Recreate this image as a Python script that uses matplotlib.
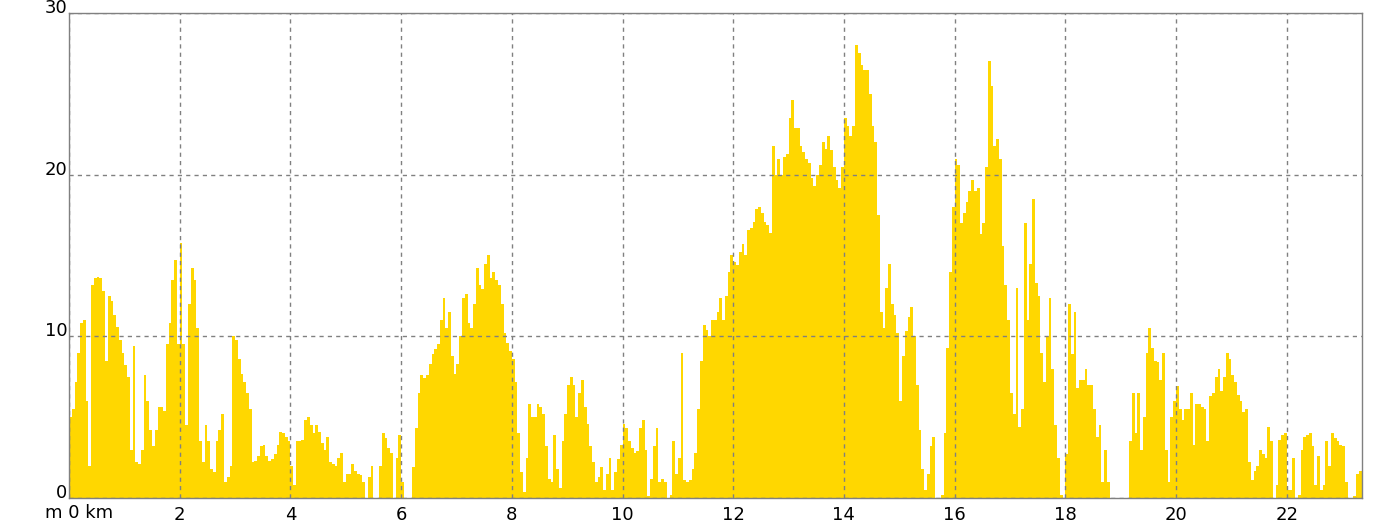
import numpy as np
import matplotlib
matplotlib.use("Agg")
import matplotlib.pyplot as plt
import matplotlib.transforms as mtransforms

# elevation (m) sampled every 50 m, one list per km
step_km = 0.05
km00 = [5.0, 5.5, 7.2, 9.0, 10.8, 11.0, 6.0, 2.0, 13.2, 13.6, 13.7, 13.6, 12.8, 8.5, 12.5, 12.2, 11.3, 10.6, 9.8, 9.0]
km01 = [8.2, 7.5, 3.0, 9.4, 2.2, 2.1, 3.0, 7.6, 6.0, 4.2, 3.2, 4.2, 5.6, 5.6, 5.4, 9.5, 10.8, 13.5, 14.7, 9.5]
km02 = [15.8, 9.5, 4.5, 12.0, 14.2, 13.5, 10.5, 3.5, 2.2, 4.5, 3.5, 1.8, 1.6, 3.5, 4.2, 5.2, 1.0, 1.3, 2.0, 10.0]
km03 = [9.8, 8.6, 7.7, 7.2, 6.5, 5.5, 2.2, 2.3, 2.6, 3.2, 3.3, 2.6, 2.3, 2.4, 2.7, 3.3, 4.1, 4.0, 3.8, 3.5]
km04 = [2.0, 0.8, 3.5, 3.5, 3.6, 4.8, 5.0, 4.5, 4.0, 4.5, 4.1, 3.4, 3.0, 3.8, 2.2, 2.1, 2.0, 2.5, 2.8, 1.0]
km05 = [1.5, 1.5, 2.1, 1.7, 1.5, 1.4, 1.0, 0, 1.3, 2.0, 0, 0, 2.0, 4.0, 3.7, 3.1, 2.8, 0, 2.5, 3.9]
km06 = [1.0, 0, 0, 0, 1.9, 4.3, 6.5, 7.6, 7.4, 7.6, 8.3, 8.9, 9.2, 9.5, 11.0, 12.4, 10.5, 11.5, 8.8, 7.7]
km07 = [8.3, 10.0, 12.4, 12.6, 10.8, 10.5, 12.0, 14.2, 13.2, 12.9, 14.5, 15.0, 13.6, 14.0, 13.5, 13.2, 12.0, 10.2, 9.6, 9.1]
km08 = [8.6, 7.2, 4.0, 1.6, 0.4, 2.5, 5.8, 5.0, 5.0, 5.8, 5.6, 5.2, 3.2, 1.2, 1.0, 3.9, 1.8, 0.6, 3.5, 5.2]
km09 = [7.0, 7.5, 7.0, 5.0, 6.5, 7.3, 5.6, 4.6, 3.2, 2.2, 1.0, 1.3, 1.9, 0.5, 1.5, 2.5, 0.5, 1.6, 2.4, 3.3]
km10 = [4.6, 4.3, 3.5, 3.1, 2.8, 2.9, 4.3, 4.8, 3.0, 0.1, 1.2, 3.2, 4.3, 1.0, 1.2, 1.0, 0, 0.2, 3.5, 1.5]
km11 = [2.5, 9.0, 1.1, 1.0, 1.1, 1.8, 2.8, 5.5, 8.5, 10.7, 10.4, 10.0, 11.0, 11.0, 11.5, 12.4, 11.0, 12.5, 14.0, 15.0]
km12 = [14.6, 14.4, 15.2, 15.7, 15.0, 16.6, 16.7, 17.1, 17.9, 18.0, 17.6, 17.1, 16.9, 16.4, 21.8, 20.0, 21.0, 20.0, 21.1, 21.3]
km13 = [23.5, 24.6, 22.9, 22.9, 21.8, 21.4, 21.0, 20.7, 19.8, 19.3, 20.0, 20.6, 22.0, 21.6, 22.4, 21.5, 20.5, 19.7, 19.2, 20.5]
km14 = [23.5, 23.0, 22.4, 23.0, 28.0, 27.5, 26.8, 26.5, 26.5, 25.0, 23.0, 22.0, 17.5, 11.5, 10.5, 13.0, 14.5, 12.0, 11.3, 10.2]
km15 = [6.0, 8.8, 10.3, 11.2, 11.8, 10.0, 7.0, 4.2, 1.8, 0.5, 1.5, 3.2, 3.8, 0, 0, 0.2, 4.0, 9.3, 14.0, 18.0]
km16 = [21.0, 20.6, 17.0, 17.6, 18.3, 19.0, 19.7, 19.0, 19.2, 16.3, 17.0, 20.5, 27.0, 25.5, 21.8, 22.2, 21.0, 15.6, 13.2, 11.0]
km17 = [6.5, 5.2, 13.0, 4.4, 5.5, 17.0, 11.0, 14.5, 18.5, 13.3, 12.5, 9.0, 7.2, 10.0, 12.4, 8.0, 4.5, 2.5, 0.2, 0]
km18 = [2.7, 12.0, 8.9, 11.5, 6.8, 7.3, 7.3, 8.0, 7.0, 7.0, 5.5, 3.8, 4.5, 1.0, 3.0, 1.0, 0, 0, 0, 0]
km19 = [0, 0, 0, 3.5, 6.5, 4.0, 6.5, 3.0, 5.0, 9.0, 10.5, 9.3, 8.5, 8.4, 7.3, 9.0, 3.0, 1.0, 5.0, 6.0]
km20 = [6.9, 5.5, 4.8, 5.5, 5.5, 6.5, 3.3, 5.8, 5.8, 5.6, 5.5, 3.5, 6.3, 6.5, 7.5, 8.0, 6.6, 7.5, 9.0, 8.6]
km21 = [7.6, 7.2, 6.4, 6.0, 5.3, 5.5, 2.2, 1.1, 1.7, 2.0, 3.0, 2.7, 2.5, 4.4, 3.5, 0, 0.8, 3.6, 3.9, 4.0]
km22 = [0.5, 0.5, 2.5, 0, 0.2, 3.0, 3.8, 3.9, 4.0, 3.2, 0.8, 2.6, 0.5, 0.8, 3.5, 2.0, 4.0, 3.7, 3.5, 3.3]
km23 = [3.2, 1.0, 0, 0, 0.1, 1.5, 1.7, 1.7]
total_km = 23.36

elev = np.array(km00 + km01 + km02 + km03 + km04 + km05 + km06 + km07 + km08 + km09 + km10 + km11
                + km12 + km13 + km14 + km15 + km16 + km17 + km18 + km19 + km20 + km21 + km22 + km23)
dist = np.arange(len(elev)) * step_km

fig = plt.figure(figsize=(13.96, 5.26), dpi=100)
ax = fig.add_axes([69 / 1396, 1 - 498 / 526, (1362 - 69) / 1396, (498 - 13) / 526])

ax.bar(dist, elev, width=step_km, align="edge", color="#FFD700", linewidth=0, zorder=1)

ax.set_xlim(0, total_km)
ax.set_ylim(0, 30)
ax.set_xticks(np.arange(0, 23, 2))
ax.set_xticklabels([""] + [str(k) for k in range(2, 23, 2)])
ax.set_yticks([0, 10, 20, 30])
ax.tick_params(axis="both", length=0, labelsize=13, colors="black")
ax.tick_params(axis="x", pad=6)
ax.tick_params(axis="y", pad=1)
for lbl in ax.get_yticklabels():
    lbl.set_verticalalignment("baseline")

ax.set_axisbelow(False)
ax.grid(True, color="#808080", linestyle=(0, (3, 3)), linewidth=1)
for sp in ax.spines.values():
    sp.set_color("#808080")
    sp.set_linewidth(1)

trans = mtransforms.offset_copy(ax.get_xaxis_transform(), fig=fig, x=10.5, y=-6, units="dots")
ax.text(0, 0, "m 0 km", transform=trans, ha="center", va="top", fontsize=13)

fig.savefig("out.png", dpi=100)
